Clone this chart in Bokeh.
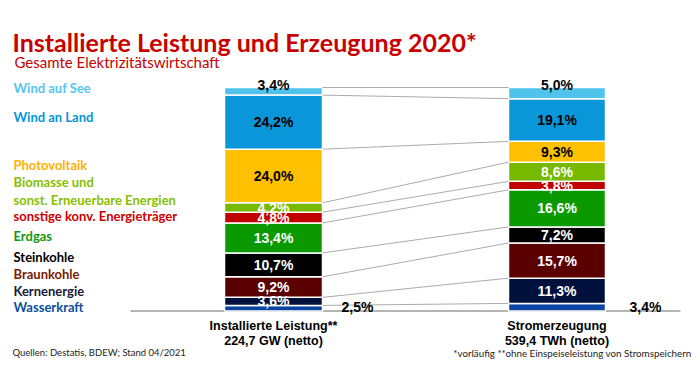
import numpy as np
from bokeh.plotting import figure
from bokeh.models import Range1d
from bokeh.core.properties import value
from bokeh.embed import file_html
from bokeh.resources import INLINE

# ---------------- data ----------------
categories = ["Wasserkraft", "Kernenergie", "Braunkohle", "Steinkohle", "Erdgas",
              "sonstige konv. Energieträger", "Biomasse und sonst. Erneuerbare Energien",
              "Photovoltaik", "Wind an Land", "Wind auf See"]
leistung = [2.5, 3.6, 9.2, 10.7, 13.4, 4.8, 4.2, 24.0, 24.2, 3.4]      # % of 224,7 GW
erzeugung = [3.4, 11.3, 15.7, 7.2, 16.6, 3.8, 8.6, 9.3, 19.1, 5.0]    # % of 539,4 TWh
bar_titles = ["Installierte Leistung**", "Stromerzeugung"]
bar_totals = ["224,7 GW (netto)", "539,4 TWh (netto)"]
legend_lines = ["Wind auf See", "Wind an Land", "Photovoltaik", "Biomasse und",
                "sonst. Erneuerbare Energien", "sonstige konv. Energieträger", "Erdgas",
                "Steinkohle", "Braunkohle", "Kernenergie", "Wasserkraft"]

# ---------------- style ----------------
seg_colors = ["#0a44a0", "#00103c", "#5a0000", "#000000", "#0a9a00",
              "#c00000", "#76b900", "#ffc000", "#0a97d9", "#4fc3eb"]
pct_colors = ["white", "white", "white", "white", "white",
              "white", "white", "black", "black", "black"]
legend_colors = ["#55c5ee", "#0596d6", "#ffb000", "#88bf00", "#88bf00", "#cc0000",
                 "#129a12", "#000000", "#7a1a00", "#1a1a3a", "#0a4fa0"]
legend_ref_y = [87.5, 116.7, 164, 181.7, 199, 215.7, 235, 256.7, 273.3, 290, 306]
RED = "#c80000"

BASE = 310.5      # pixel row of 0 %
PX = 2.235        # pixels per percent
W, H = 692, 362


def py(ref_y):
    return (BASE - ref_y) / PX


def fmt(v):
    return f"{v:.1f}".replace(".", ",") + "%"


p = figure(width=W, height=H, x_range=Range1d(0, W), y_range=Range1d(py(H), py(0)),
           output_backend="svg", toolbar_location=None, min_border=0,
           x_axis_location=None, y_axis_location=None)
p.grid.visible = False
p.outline_line_color = None
p.background_fill_color = "white"
p.border_fill_color = "white"

bars = [(273, 98, leistung), (556.5, 97, erzeugung)]

# baseline
p.segment(x0=[130], y0=[0], x1=[680], y1=[0], line_color="#b4b4b4", line_width=2)

tops_all = []
for xc, w, vals in bars:
    v = np.array(vals)
    top = np.cumsum(v)
    bottom = top - v
    tops_all.append(top)
    p.vbar(x=[xc] * len(v), width=w, bottom=bottom, top=top, fill_color=seg_colors,
           line_color="white", line_width=1.5)

# connecting lines
p.segment(x0=[273 + 49] * len(categories), y0=tops_all[0], x1=[556.5 - 48.5] * len(categories),
          y1=tops_all[1], line_color="#ababab", line_width=1)

# percentage labels
for (xc, w, vals), top, outx in zip(bars, tops_all, [357, 645]):
    v = np.array(vals)
    mid = top - v / 2
    xs, ys, ts, cs = [], [], [], []
    for i in range(len(v)):
        if i == 0:
            xs.append(outx); ys.append(py(306.5)); cs.append("black")
        elif i == len(v) - 1:
            xs.append(xc); ys.append(py(84)); cs.append("black")
        else:
            xs.append(xc); ys.append(mid[i]); cs.append(pct_colors[i])
        ts.append(fmt(v[i]))
    p.text(x=xs, y=ys, text=ts, text_color=cs, text_font=value("Liberation Sans"),
           text_font_style="bold", text_font_size="14px", text_align="center",
           text_baseline="middle")

# bar category labels
p.text(x=[273, 556.5], y=[py(325)] * 2, text=bar_titles, text_color="black",
       text_font=value("Liberation Sans"), text_font_style="bold", text_font_size="12.5px",
       text_align="center", text_baseline="middle")
p.text(x=[273, 556.5], y=[py(340)] * 2, text=bar_totals, text_color="black",
       text_font=value("Liberation Sans"), text_font_style="bold", text_font_size="12.5px",
       text_align="center", text_baseline="middle")

# legend-like labels on the left
p.text(x=[13] * len(legend_lines), y=[py(y) for y in legend_ref_y], text=legend_lines,
       text_color=legend_colors, text_font=value("Lato"), text_font_style="bold",
       text_font_size="13px", text_align="left", text_baseline="middle")

# title + subtitle
p.text(x=[12], y=[py(41)], text=["Installierte Leistung und Erzeugung 2020*"], text_color=RED,
       text_font=value("Lato"), text_font_style="bold", text_font_size="25px",
       text_align="left", text_baseline="alphabetic")
p.text(x=[14], y=[py(61.5)], text=["Gesamte Elektrizitätswirtschaft"], text_color=RED,
       text_font=value("Lato"), text_font_size="15px",
       text_align="left", text_baseline="alphabetic")

# footer
p.text(x=[12], y=[py(352)], text=["Quellen: Destatis, BDEW; Stand 04/2021"], text_color="#222222",
       text_font=value("Lato"), text_font_size="9.5px", text_align="left", text_baseline="middle")
p.text(x=[691], y=[py(352)], text=["*vorläufig **ohne Einspeiseleistung von Stromspeichern"],
       text_color="#222222", text_font=value("Lato"), text_font_size="9.8px",
       text_align="right", text_baseline="middle")

open("out.html", "w").write(file_html(p, INLINE))
